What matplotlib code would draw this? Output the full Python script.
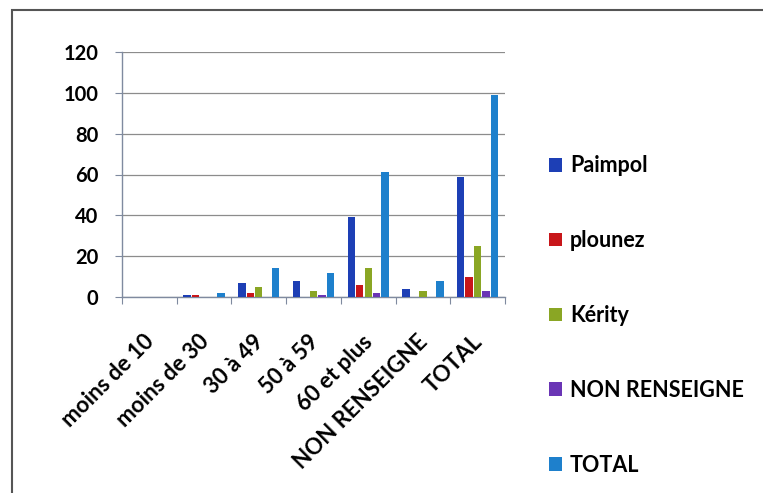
import numpy as np
import matplotlib.pyplot as plt
import matplotlib.transforms as mtransforms
from matplotlib.patches import Rectangle, Patch

categories = ['moins de 10', 'moins de 30', '30 à 49', '50 à 59',
              '60 et plus', 'NON RENSEIGNE', 'TOTAL']
series_names = ['Paimpol', 'plounez', 'Kérity', 'NON RENSEIGNE', 'TOTAL']
paimpol = [0, 1, 7, 8, 39, 4, 59]
plounez = [0, 1, 2, 0, 6, 0, 10]
kerity = [0, 0, 5, 3, 14, 3, 25]
non_renseigne = [0, 0, 0, 1, 2, 0, 3]
total = [0, 2, 14, 12, 61, 8, 99]
colors = ['#1d3fb5', '#c8161a', '#8aa624', '#6a35b5', '#1e80cc']

plt.rcParams['font.family'] = ['Lato', 'DejaVu Sans']

fig = plt.figure(figsize=(7.63, 4.93), dpi=100)
ax = fig.add_axes([122 / 763, 1 - 297 / 493, (505 - 122) / 763, (297 - 52) / 493])

x = np.arange(len(categories))
step = 0.155
width = 0.135
data = [paimpol, plounez, kerity, non_renseigne, total]
for i, (vals, c) in enumerate(zip(data, colors)):
    ax.bar(x + (i - 2) * step + 0.5, vals, width=width, color=c, zorder=3)

ax.set_xlim(0, len(categories))
ax.set_ylim(0, 120)
ax.set_yticks(range(0, 121, 20))
ax.grid(axis='y', color='#8c8c8c', linewidth=0.9, zorder=0)

# category boundaries get the tick marks, labels drawn as rotated text
ax.set_xticks(np.arange(len(categories) + 1))
ax.set_xticklabels([])
ax.tick_params(axis='x', length=5, color='#7f8a9f', direction='out')
lbl_trans = ax.get_xaxis_transform() + mtransforms.ScaledTranslation(
    -6 / 100, -34 / 100, fig.dpi_scale_trans)
for xi, name in zip(x, categories):
    ax.text(xi + 0.5, 0, name, transform=lbl_trans, rotation=45,
            ha='right', va='top', rotation_mode='anchor',
            fontsize=16, fontweight='bold', clip_on=False)

ax.tick_params(axis='y', length=5, color='#7f8a9f', direction='out',
               labelsize=14.5, pad=12)
for lbl in ax.get_yticklabels():
    lbl.set_fontweight('bold')

for s in ['top', 'right']:
    ax.spines[s].set_visible(False)
for s in ['left', 'bottom']:
    ax.spines[s].set_color('#7f8a9f')
    ax.spines[s].set_linewidth(1.0)

handles = [Patch(facecolor=c, edgecolor='none') for c in colors]
leg = fig.legend(handles, series_names, loc='upper left',
                 bbox_to_anchor=(530 / 763, 1 - 136 / 493), frameon=False,
                 handlelength=0.6, handleheight=0.6, handletextpad=0.35,
                 labelspacing=2.5, prop={'size': 15.5, 'weight': 'bold'})

# scanned chart frame (only left/top edges visible)
fig.patches.append(Rectangle((12 / 763, -0.1), 1.2, 1 - 10 / 493 + 0.1,
                             transform=fig.transFigure, fill=False,
                             edgecolor='#555555', linewidth=1.5))

fig.savefig('out.png', dpi=100)
